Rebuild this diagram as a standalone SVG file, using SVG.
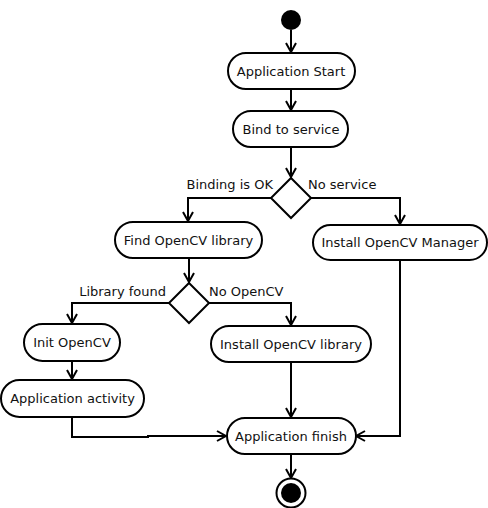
<svg xmlns="http://www.w3.org/2000/svg" width="488" height="508" viewBox="0 0 488 508">
<defs>
<marker id="arr" markerWidth="12" markerHeight="12" refX="10" refY="6" orient="auto" markerUnits="userSpaceOnUse">
<path d="M1,1 L10,6 L1,11" fill="none" stroke="#000" stroke-width="2"/>
</marker>
<style>
.node{fill:#fff;stroke:#000;stroke-width:2}
.t{font-family:"DejaVu Sans",sans-serif;font-size:13px;fill:#111;text-anchor:middle}
.l{font-family:"DejaVu Sans",sans-serif;font-size:13px;fill:#111}
.c{fill:none;stroke:#000;stroke-width:2;marker-end:url(#arr)}
</style>
</defs>
<rect width="488" height="508" fill="#fff"/>
<g id="connectors">
<path class="c" d="M291,30 V52"/>
<path class="c" d="M291,89 V110"/>
<path class="c" d="M291,147 V177"/>
<path class="c" d="M271,198 H188 V221"/>
<path class="c" d="M311,198 H400 V224"/>
<path class="c" d="M189,258 V282"/>
<path class="c" d="M169,303 H72 V323"/>
<path class="c" d="M209,303 H291 V325"/>
<path class="c" d="M72,361 V379"/>
<path class="c" d="M72,417 V437 H148 V436 H226"/>
<path class="c" d="M291,362 V417"/>
<path class="c" d="M400,260 V436 H356"/>
<path class="c" d="M291,454 V478"/>
</g>
<g id="start"><circle cx="291" cy="20" r="10" fill="#000"/></g>
<g id="appStart"><rect class="node" x="228" y="53" width="127" height="36" rx="18"/><text class="t" x="291" y="75.5">Application Start</text></g>
<g id="bind"><rect class="node" x="233" y="111" width="115" height="36" rx="18"/><text class="t" x="291" y="133.5">Bind to service</text></g>
<g id="decision1"><polygon class="node" points="291,178 311,198 291,218 271,198"/></g>
<g id="labelOK"><text class="l" x="273" y="189" text-anchor="end">Binding is OK</text></g>
<g id="labelNoService"><text class="l" x="308" y="189">No service</text></g>
<g id="findLib"><rect class="node" x="115" y="222" width="147" height="36" rx="18"/><text class="t" x="188.5" y="244.5">Find OpenCV library</text></g>
<g id="installManager"><rect class="node" x="313" y="225" width="174" height="35" rx="17.5"/><text class="t" x="400" y="247">Install OpenCV Manager</text></g>
<g id="decision2"><polygon class="node" points="189,283 209,303 189,323 169,303"/></g>
<g id="labelFound"><text class="l" x="166" y="296" text-anchor="end">Library found</text></g>
<g id="labelNoOpenCV"><text class="l" x="209" y="296">No OpenCV</text></g>
<g id="initCV"><rect class="node" x="24" y="324" width="96" height="37" rx="18.5"/><text class="t" x="72" y="347">Init OpenCV</text></g>
<g id="installLib"><rect class="node" x="211" y="326" width="160" height="36" rx="18"/><text class="t" x="291" y="348.5">Install OpenCV library</text></g>
<g id="appActivity"><rect class="node" x="1" y="380" width="143" height="37" rx="18.5"/><text class="t" x="72.5" y="403">Application activity</text></g>
<g id="appFinish"><rect class="node" x="227" y="418" width="129" height="36" rx="18"/><text class="t" x="291" y="440.5">Application finish</text></g>
<g id="end"><circle cx="291" cy="493" r="14.5" fill="#fff" stroke="#000" stroke-width="2"/><circle cx="291" cy="493" r="10" fill="#000"/></g>
</svg>
